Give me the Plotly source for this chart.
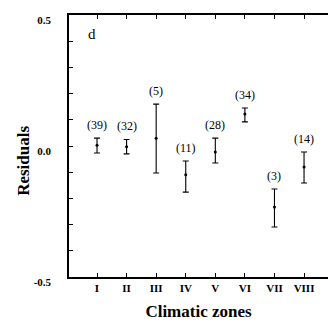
import plotly.graph_objects as go

zones = ["I", "II", "III", "IV", "V", "VI", "VII", "VIII"]
zone_pos = [1, 2, 3, 4, 5, 6, 7, 8]
means = [0.003, -0.003, 0.03, -0.11, -0.023, 0.122, -0.233, -0.08]
upper = [0.03, 0.025, 0.16, -0.057, 0.03, 0.145, -0.164, -0.023]
lower = [-0.027, -0.03, -0.103, -0.176, -0.065, 0.092, -0.309, -0.141]
counts = ["(39)", "(32)", "(5)", "(11)", "(28)", "(34)", "(3)", "(14)"]

err_plus = [u - m for u, m in zip(upper, means)]
err_minus = [m - l for m, l in zip(means, lower)]

serif = "Liberation Serif, Times New Roman, serif"

fig = go.Figure()
fig.add_trace(go.Scatter(
    x=zone_pos, y=means, mode="markers",
    marker=dict(color="black", size=3),
    error_y=dict(type="data", symmetric=False, array=err_plus, arrayminus=err_minus,
                 color="black", thickness=1.1, width=3),
    showlegend=False, hoverinfo="skip",
))

annotations = []
for xp, up, c in zip(zone_pos, upper, counts):
    annotations.append(dict(x=xp, y=up, text=c, showarrow=False, yanchor="bottom",
                            yshift=4, font=dict(family=serif, size=12, color="black")))
annotations.append(dict(x=0.067, y=0.966, xref="paper", yref="paper", text="d",
                        showarrow=False, font=dict(family=serif, size=15, color="black")))
annotations.append(dict(x=-0.174, y=0.443, xref="paper", yref="paper", text="<b>Residuals</b>",
                        textangle=-90, showarrow=False, xanchor="center", yanchor="middle",
                        font=dict(family=serif, size=17, color="black")))

fig.update_layout(
    width=328, height=325,
    margin=dict(l=69, r=0, t=15, b=48, autoexpand=False),
    paper_bgcolor="white", plot_bgcolor="white",
    annotations=annotations,
    xaxis=dict(
        range=[0.053, 8.81], tickvals=zone_pos, ticktext=zones, automargin=False,
        showline=True, linecolor="black", linewidth=1.5, mirror="ticks",
        ticks="inside", ticklen=4, tickcolor="black", tickwidth=1,
        showgrid=False, zeroline=False,
        tickfont=dict(family=serif, size=11, color="black", weight="bold"),
        title=dict(text="Climatic zones", standoff=12,
                   font=dict(family=serif, size=17, color="black", weight="bold")),
    ),
    yaxis=dict(
        range=[-0.5, 0.5], tickvals=[-0.5, 0.0, 0.5], ticktext=["-0.5", "0.0", "0.5"],
        automargin=False,
        showline=True, linecolor="black", linewidth=1.5,
        ticks="inside", ticklen=4, tickcolor="black", tickwidth=1.2,
        minor=dict(dtick=0.1, ticks="inside", ticklen=4, tickcolor="black", tickwidth=1.2),
        showgrid=False, zeroline=False, ticklabelstandoff=14, ticklabelshift=5,
        tickfont=dict(family=serif, size=11, color="black", weight="bold"),
    ),
)

fig.write_html("out.html", config={"displayModeBar": False},
               post_script="document.body.style.margin='0';")
